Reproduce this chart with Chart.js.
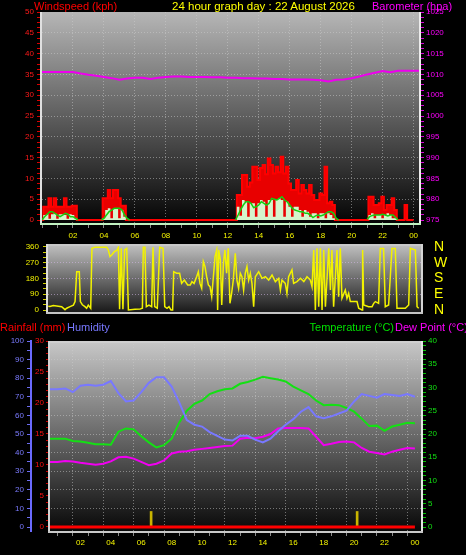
<!DOCTYPE html>
<html>
<head>
<meta charset="utf-8">
<title>24 hour graph</title>
<script src="https://cdn.jsdelivr.net/npm/chart.js@4.4.1/dist/chart.umd.min.js"></script>
<style>
  html, body { margin: 0; padding: 0; background: #000; }
  body { position: relative; width: 466px; height: 555px; overflow: hidden; font-family: "Liberation Sans", Arial, sans-serif; }
  canvas { position: absolute; left: 0; }
  .lbl { position: absolute; font-size: 11px; line-height: 12px; white-space: nowrap; z-index: 2; }
</style>
</head>
<body>
<div class="lbl" style="left:34px;top:0;color:#ff0000">Windspeed (kph)</div>
<div class="lbl" style="left:172px;top:0;color:#ffff00;font-size:11.5px">24 hour graph day : 22 August 2026</div>
<div class="lbl" style="left:372px;top:0;color:#ff00ff">Barometer (hpa)</div>
<div class="lbl" style="left:0;top:321px;color:#ff0000">Rainfall (mm)</div>
<div class="lbl" style="left:67px;top:321px;color:#7878ff">Humidity</div>
<div class="lbl" style="right:72px;top:321px;color:#00e000">Temperature (°C)</div>
<div class="lbl" style="left:395px;top:321px;color:#ff00ff">Dew Point (°C)</div>

<canvas id="windChart" width="466" height="240" style="top:0"></canvas>
<canvas id="dirChart" width="466" height="87" style="top:234px"></canvas>
<canvas id="weatherChart" width="466" height="235" style="top:320px"></canvas>

<script>
// wind, one sample every 10 minutes from 00:00 (kph)
const windGust = [
  0, 3.2, 3.2, 5.2, 3.2, 5.2,
  3.2, 3.2, 3.2, 5.2, 3.2, 3.2,
  3.4, 3.4, 0, 0, 0, 0,
  0, 0, 0, 0, 0, 0,
  5.2, 5.2, 7.2, 5.2, 7.2, 7.2,
  5.2, 3.4, 3.4, 0, 0, 0,
  0, 0, 0, 0, 0, 0,
  0, 0, 0, 0, 0, 0,
  0, 0, 0, 0, 0, 0,
  0, 0, 0, 0, 0, 0,
  0, 0, 0, 0, 0, 0,
  0, 0, 0, 0, 0, 0,
  0, 0, 0, 0, 6.0, 6.0,
  10.8, 10.8, 8.0, 9.0, 12.8, 12.8,
  9.6, 12.5, 13.2, 11.0, 14.8, 13.2,
  11.2, 12.8, 11.5, 15.2, 11.2, 12.8,
  8.8, 7.2, 7.2, 9.6, 6.4, 8.4,
  7.2, 6.4, 8.4, 6.0, 4.8, 4.8,
  6.4, 6.0, 12.8, 4.0, 4.4, 3.6,
  0, 0, 0, 0, 0, 0,
  0, 0, 0, 0, 0, 0,
  0, 5.6, 5.6, 3.6, 3.6, 4.0,
  5.6, 2.4, 3.6, 3.6, 5.2, 2.4,
  0, 0, 0, 3.6, 0, 0,
  0
];
const windSpeed = [
  0, 1.2, 1.4, 0.3, 1.4, 1.6,
  0.3, 1.4, 1.4, 1.2, 0.3, 1.4,
  1.2, 0.4, 0, 0, 0, 0,
  0, 0, 0, 0, 0, 0,
  0.4, 2.4, 2.8, 0.4, 2.8, 2.8,
  0.4, 2.4, 0.8, 0, 0, 0,
  0, 0, 0, 0, 0, 0,
  0, 0, 0, 0, 0, 0,
  0, 0, 0, 0, 0, 0,
  0, 0, 0, 0, 0, 0,
  0, 0, 0, 0, 0, 0,
  0, 0, 0, 0, 0, 0,
  0, 0, 0, 0, 3.2, 1.0,
  4.8, 4.4, 0.8, 4.0, 4.0, 0.8,
  4.0, 4.8, 4.4, 0.8, 4.8, 4.8,
  0.8, 4.8, 5.2, 4.8, 0.8, 4.4,
  3.2, 0.8, 3.2, 3.2, 2.4, 0.8,
  2.4, 2.0, 0.8, 1.6, 1.6, 0.4,
  1.6, 1.6, 0.4, 1.6, 1.2, 0.4,
  0, 0, 0, 0, 0, 0,
  0, 0, 0, 0, 0, 0,
  0, 1.2, 1.6, 0.4, 1.2, 1.2,
  0.4, 1.2, 1.6, 1.2, 0.4, 0.4,
  0, 0, 0, 0, 0, 0,
  0
];
const windAvg = [
  0, 0.8, 1.4, 2.0, 2.0, 1.6,
  1.2, 0.8, 1.2, 1.6, 1.4, 0.8,
  0.8, 0.4, 0, null, null, null,
  null, null, null, null, null, 0,
  0.4, 1.2, 2.0, 2.4, 2.8, 2.8,
  2.8, 2.4, 1.2, 0.4, 0, null,
  null, null, null, null, null, null,
  null, null, null, null, null, null,
  null, null, null, null, null, null,
  null, null, null, null, null, null,
  null, null, null, null, null, null,
  null, null, null, null, null, null,
  null, null, null, 0, 1.2, 2.5,
  3.6, 4.4, 4.4, 4.0, 3.0, 3.2,
  3.6, 4.4, 4.0, 3.6, 4.0, 5.2,
  5.0, 4.8, 5.2, 5.6, 4.8, 4.4,
  3.6, 2.8, 2.4, 2.2, 2.0, 2.0,
  1.6, 1.6, 1.2, 0.6, 1.0, 1.2,
  1.0, 1.2, 1.6, 2.0, 2.0, 1.6,
  0.4, 0, null, null, null, null,
  null, null, null, null, null, null,
  0.2, 0.8, 1.1, 1.2, 1.2, 1.2,
  1.4, 1.2, 1.0, 1.2, 1.2, 0.6,
  0, null, null, null, null, null,
  null
];

// barometer, one sample every 30 minutes (hPa)
const pressure = [
  1010.6, 1010.6, 1010.6, 1010.6,
  1010.6, 1010.2, 1009.9, 1009.7,
  1009.4, 1009.1, 1008.7, 1009.0,
  1009.2, 1009.2, 1008.9, 1009.2,
  1009.4, 1009.5, 1009.5, 1009.4,
  1009.4, 1009.4, 1009.3, 1009.3,
  1009.2, 1009.2, 1009.1, 1009.1,
  1009.0, 1009.0, 1008.9, 1008.9,
  1008.8, 1008.8, 1008.8, 1008.7,
  1008.6, 1008.3, 1008.7, 1008.8,
  1009.1, 1009.5, 1010.0, 1010.4,
  1010.8, 1010.5, 1010.9, 1010.9,
  1010.9, 1010.9
];

// wind direction (hour of day, degrees)
const dirHours = [
  0.02, 0.13, 0.35, 0.68, 0.90, 1.12, 1.23, 1.45, 1.67, 1.78, 1.89, 2.06, 2.13, 2.26, 2.43, 2.54, 2.65, 2.81, 2.89,
  3.09, 3.53, 3.86, 3.97, 4.08, 4.19, 4.36, 4.52, 4.63, 4.71, 4.82, 4.93, 5.04, 5.18, 5.29, 5.72, 6.05, 6.21, 6.27,
  6.38, 6.47, 6.64, 6.82, 6.91, 7.02, 7.19, 7.35, 7.57, 7.68, 7.83, 7.96, 8.09, 8.20, 8.27, 8.46, 8.66, 8.79, 8.97,
  9.19, 9.36, 9.47, 9.61, 9.78, 9.89, 10.00, 10.11, 10.22, 10.33, 10.44, 10.55, 10.66, 10.77, 10.88, 10.99, 11.10,
  11.16, 11.23, 11.34, 11.43, 11.54, 11.64, 11.75, 11.86, 11.97, 12.08, 12.19, 12.32, 12.43, 12.54, 12.65, 12.76,
  12.87, 12.98, 13.09, 13.20, 13.31, 13.42, 13.53, 13.64, 13.86, 14.08, 14.30, 14.52, 14.74, 14.96, 15.18, 15.29,
  15.39, 15.61, 15.72, 15.83, 16.05, 16.16, 16.38, 16.61, 16.83, 17.04, 17.26, 17.37, 17.48, 17.59, 17.70, 17.81,
  17.92, 18.03, 18.14, 18.25, 18.47, 18.58, 18.68, 18.79, 19.01, 19.12, 19.23, 19.34, 19.56, 19.67, 19.78, 19.89,
  20.33, 20.44, 20.66, 20.70, 20.77, 21.09, 21.32, 21.43, 21.54, 21.75, 21.86, 22.08, 22.19, 22.41, 22.63, 22.85,
  22.96, 23.51, 23.73, 23.84, 24.17, 24.28, 24.39
];
const dirDegrees = [
  22, 20, 25, 22, 19, 2, 10, 19, 28, 48, 219, 219, 48, 30, 19, 10, 28, 10, 352,
  358, 358, 358, 343, 305, 314, 333, 340, 358, 5, 352, 5, 343, 352, 0, 4, 5, 10, 358,
  358, 19, 28, 19, 358, 19, 10, 358, 352, 19, 10, 19, 0, 0, 219, 210, 210, 152, 171,
  143, 143, 162, 152, 190, 219, 152, 124, 276, 248, 190, 143, 133, 76, 190, 305, 343,
  0, 343, 286, 29, 267, 343, 210, 352, 38, 95, 171, 324, 171, 124, 210, 190,
  114, 210, 248, 171, 210, 152, 19, 190, 219, 181, 190, 171, 200, 162, 181, 114,
  171, 152, 95, 190, 229, 152, 162, 181, 162, 190, 171, 133, 343, 0, 352, 19,
  352, 0, 343, 19, 352, 114, 343, 19, 343, 76, 352, 67, 114, 67, 95, 48,
  48, 10, 0, 343, 29, 19, 19, 38, 48, 38, 352, 352, 19, 29, 352, 352,
  10, 10, 29, 352, 343, 19, 10
];

// temperature, dew point, humidity, rainfall: one sample every 30 minutes
const temperature = [
  19.0, 19.0, 19.0, 18.5,
  18.4, 18.1, 17.8, 17.8,
  17.7, 20.5, 21.2, 21.0,
  19.5, 18.2, 17.1, 17.6,
  19.0, 22.5, 25.0, 26.5,
  27.2, 28.6, 29.2, 29.6,
  29.8, 30.8, 31.2, 31.7,
  32.3, 32.0, 31.7, 31.3,
  30.2, 29.4, 28.6, 27.2,
  26.2, 26.3, 26.2, 25.6,
  24.8, 23.3, 21.7, 21.8,
  20.7, 21.6, 22.0, 22.4,
  22.3
];
const dewPoint = [
  14.0, 14.0, 14.2, 14.1,
  13.8, 13.6, 13.4, 13.6,
  14.1, 15.0, 15.1, 14.7,
  14.0, 13.3, 13.6, 14.3,
  15.8, 16.2, 16.3, 16.6,
  16.8, 17.0, 17.2, 17.4,
  17.5, 19.0, 19.2, 19.1,
  19.4, 20.0, 21.2, 21.3,
  21.3, 21.3, 21.2, 19.4,
  17.6, 17.9, 18.3, 18.4,
  18.2, 17.0, 16.2, 15.9,
  15.6, 16.2, 16.6, 17.0,
  16.9
];
const humidity = [
  74, 74, 74.5, 72.5,
  76, 76.5, 76, 76.5,
  78.5, 72, 67.5, 68,
  72.5, 77.5, 80.5, 80.5,
  75.5, 67, 57.5, 55,
  54, 51, 49, 47,
  46.5, 49, 49, 47,
  45.5, 47.5, 51.5, 55,
  58, 62, 64.5, 59.5,
  58.5, 59.5, 61, 62.5,
  67.5, 71.5, 70.5, 69.5,
  71.5, 71, 70.5, 71.5,
  70
];
const rainfall = [
  0, 0, 0, 0, 0, 0, 0, 0, 0, 0, 0, 0,
  0, 0, 0, 0, 0, 0, 0, 0, 0, 0, 0, 0,
  0, 0, 0, 0, 0, 0, 0, 0, 0, 0, 0, 0,
  0, 0, 0, 0, 0, 0, 0, 0, 0, 0, 0, 0,
  0
];
const rainMarkHours = [6.65, 20.2];
const rainMarkMm = [2.5, 2.5];

const hourLabels = ['02', '04', '06', '08', '10', '12', '14', '16', '18', '20', '22', '00'];
const compassLabels = ['N', 'E', 'S', 'W', 'N'];

const FONT = { family: '"Liberation Sans", Arial, sans-serif', size: 8 };
const GRID = 'rgba(205,205,205,0.5)';
const NONE = 'rgba(0,0,0,0)';

const every10min = arr => arr.map((v, i) => ({ x: i / 6, y: v }));
const every30min = arr => arr.map((v, i) => ({ x: i / 2, y: v }));

function fixedTicks(from, to, step) {
  return scale => {
    const t = [];
    const n = Math.round((to - from) / step);
    for (let i = 0; i <= n; i++) t.push({ value: +(from + i * step).toFixed(3) });
    scale.ticks = t;
  };
}
// fix an axis size and keep its labels from pushing the plot area around
function fixSize(w, h) {
  return s => {
    if (w != null) s.width = w;
    if (h != null) s.height = h;
    s.paddingTop = 0;
    s.paddingBottom = 0;
    s.paddingLeft = 0;
    s.paddingRight = 0;
  };
}
const isMult = (v, m) => Math.abs(v / m - Math.round(v / m)) < 1e-6;
const hourTick = v => (v > 0 && isMult(v, 2)) ? hourLabels[v / 2 - 1] : '';
const evenHourGrid = ctx => (ctx.tick && ctx.tick.value > 0 && isMult(ctx.tick.value, 2)) ? GRID : NONE;

// plot background gradient and frame
const plotBox = {
  id: 'plotBox',
  beforeDraw(chart, args, o) {
    const { ctx, chartArea: a } = chart;
    const g = ctx.createLinearGradient(0, a.top, 0, a.bottom);
    g.addColorStop(0, o.top);
    g.addColorStop(1, o.bottom);
    ctx.save();
    ctx.fillStyle = g;
    ctx.fillRect(a.left, a.top, a.right - a.left, a.bottom - a.top);
    ctx.restore();
  },
  afterDatasetsDraw(chart, args, o) {
    const { ctx, chartArea: a } = chart;
    ctx.save();
    ctx.lineWidth = 2;
    const edge = (col, x1, y1, x2, y2) => {
      if (!col) return;
      ctx.strokeStyle = col;
      ctx.beginPath();
      ctx.moveTo(x1, y1);
      ctx.lineTo(x2, y2);
      ctx.stroke();
    };
    edge(o.topEdge, a.left - 2, a.top + 1, a.right + 2, a.top + 1);
    edge(o.leftEdge, a.left - 1, a.top, a.left - 1, a.bottom + 2);
    edge(o.rightEdge, a.right + 1, a.top, a.right + 1, a.bottom + 2);
    edge(o.bottomEdge, a.left - 2, a.bottom + 1, a.right + 2, a.bottom + 1);
    ctx.restore();
  }
};
Chart.register(plotBox);

const base = {
  responsive: false,
  animation: false,
  elements: { point: { radius: 0 }, line: { tension: 0 } },
  plugins: { legend: { display: false }, tooltip: { enabled: false } }
};

// --- wind speed & barometer ---
new Chart(document.getElementById('windChart'), {
  type: 'line',
  data: {
    datasets: [
      { label: 'Average', data: every10min(windAvg), borderColor: '#12d012', borderWidth: 1.5, yAxisID: 'kph', order: 0 },
      { label: 'Speed', data: every10min(windSpeed), borderWidth: 0, backgroundColor: '#d4f4cc', fill: 'origin', stepped: 'middle', yAxisID: 'kph', order: 1 },
      { label: 'Gust', data: every10min(windGust), borderColor: '#ff0000', borderWidth: 2, backgroundColor: '#e80000', fill: 'origin', stepped: 'middle', yAxisID: 'kph', order: 2 },
      { label: 'Barometer', data: every30min(pressure), borderColor: '#ee00ee', borderWidth: 2, yAxisID: 'hpa', order: 0 }
    ]
  },
  options: {
    ...base,
    layout: { padding: { top: 12, left: 0, right: 0, bottom: 0 } },
    plugins: {
      ...base.plugins,
      plotBox: { top: '#b6b6b6', bottom: '#040404', leftEdge: '#e0e0e0', rightEdge: '#ececec', bottomEdge: '#bff0bf' }
    },
    scales: {
      x: {
        type: 'linear', min: 0, max: 24.35,
        afterBuildTicks: fixedTicks(0, 24, 1),
        afterFit: fixSize(null, 17),
        grid: { color: evenHourGrid, tickColor: '#8a8a8a', tickLength: 5 },
        border: { display: false, dash: [1, 2] },
        ticks: { color: '#f4f400', font: FONT, padding: 3, maxRotation: 0, autoSkip: false, callback: hourTick }
      },
      kph: {
        type: 'linear', position: 'left', min: -0.72, max: 50,
        afterBuildTicks: fixedTicks(0, 50, 1.25),
        afterFit: fixSize(42, null),
        grid: {
          color: ctx => (ctx.tick && isMult(ctx.tick.value, 5) && ctx.tick.value > 0 && ctx.tick.value < 50) ? GRID : NONE,
          tickColor: '#d80000', tickLength: 5
        },
        border: { display: false, dash: [1, 2] },
        ticks: { color: '#ff1a1a', font: FONT, padding: 3, autoSkip: false, callback: v => isMult(v, 5) ? v : '' }
      },
      hpa: {
        type: 'linear', position: 'right', min: 974.28, max: 1025,
        afterBuildTicks: fixedTicks(975, 1025, 1.25),
        afterFit: fixSize(47, null),
        grid: { drawOnChartArea: false, tickColor: '#d800d8', tickLength: 5 },
        border: { display: false },
        ticks: { color: '#ff00ff', font: FONT, padding: 2, autoSkip: false, callback: v => isMult(v, 5) ? v : '' }
      }
    }
  }
});

// --- wind direction ---
new Chart(document.getElementById('dirChart'), {
  type: 'line',
  data: {
    datasets: [
      { label: 'Direction', data: dirHours.map((h, i) => ({ x: h, y: dirDegrees[i] })), borderColor: '#f2f200', borderWidth: 1.5, yAxisID: 'deg' }
    ]
  },
  options: {
    ...base,
    layout: { padding: { top: 10, left: 0, right: 0, bottom: 9 } },
    plugins: {
      ...base.plugins,
      plotBox: { top: '#c2c2c2', bottom: '#1a1a1a', topEdge: '#c8c8c8', leftEdge: '#dcdcdc', rightEdge: '#d4d4d4', bottomEdge: '#c4c4c4' }
    },
    scales: {
      x: { type: 'linear', min: 0, max: 24.54, display: false },
      deg: {
        type: 'linear', position: 'left', min: -11.4, max: 377,
        afterBuildTicks: fixedTicks(0, 360, 30),
        afterFit: fixSize(48, null),
        grid: {
          color: ctx => (ctx.tick && isMult(ctx.tick.value, 90) && ctx.tick.value > 0 && ctx.tick.value < 360) ? 'rgba(215,185,235,0.55)' : NONE,
          tickColor: '#d0d000', tickLength: 5
        },
        border: { display: false, dash: [1, 2] },
        ticks: { color: '#f0f000', font: FONT, padding: 4, autoSkip: false, callback: v => isMult(v, 90) ? v : '' }
      },
      compass: {
        type: 'linear', position: 'right', min: -11.4, max: 377,
        afterBuildTicks: fixedTicks(0, 360, 90),
        afterFit: fixSize(45, null),
        grid: { display: false },
        border: { display: false },
        ticks: { color: '#ffff00', font: { family: FONT.family, size: 14 }, padding: 5, autoSkip: false, callback: v => compassLabels[Math.round(v / 90)] }
      }
    }
  }
});

// --- rainfall, humidity, temperature, dew point ---
new Chart(document.getElementById('weatherChart'), {
  type: 'line',
  data: {
    datasets: [
      { label: 'Rainfall', data: every30min(rainfall), borderColor: '#ff0000', borderWidth: 3, yAxisID: 'rain', order: 0 },
      { type: 'bar', label: 'Rain', data: rainMarkHours.map((h, i) => ({ x: h, y: rainMarkMm[i] })), backgroundColor: '#c8b400', barThickness: 2, yAxisID: 'rain', order: 1 },
      { label: 'Humidity', data: every30min(humidity), borderColor: '#7878ff', borderWidth: 2, yAxisID: 'hum', order: 2 },
      { label: 'Temperature', data: every30min(temperature), borderColor: '#14e014', borderWidth: 2, yAxisID: 'temp', order: 3 },
      { label: 'Dew Point', data: every30min(dewPoint), borderColor: '#f000f0', borderWidth: 2, yAxisID: 'temp', order: 4 }
    ]
  },
  options: {
    ...base,
    layout: { padding: { top: 21, left: 0, right: 0, bottom: 0 } },
    plugins: {
      ...base.plugins,
      plotBox: { top: '#c8c8c8', bottom: '#080808', topEdge: '#cfcfcf', leftEdge: '#d4d4d4', rightEdge: '#e4e4e4', bottomEdge: '#c8c8c8' }
    },
    scales: {
      x: {
        type: 'linear', min: 0, max: 24.4, offset: false,
        afterBuildTicks: fixedTicks(0, 24, 1),
        afterFit: fixSize(null, 24),
        grid: { color: evenHourGrid, tickColor: '#8a8a8a', tickLength: 5 },
        border: { display: false, dash: [1, 2] },
        ticks: { color: '#f4f400', font: FONT, padding: 2, maxRotation: 0, autoSkip: false, callback: hourTick }
      },
      hum: {
        type: 'linear', position: 'left', weight: 2, min: -2.15, max: 100,
        afterBuildTicks: fixedTicks(0, 100, 5),
        afterFit: fixSize(31, null),
        grid: {
          color: ctx => (ctx.tick && isMult(ctx.tick.value, 10) && ctx.tick.value > 0 && ctx.tick.value < 100) ? GRID : NONE,
          tickColor: '#6c6cf0', tickLength: 4
        },
        border: { display: true, color: '#6a6aff', width: 2, dash: [1, 2] },
        ticks: { color: '#7b7bff', font: FONT, padding: 3, autoSkip: false, callback: v => isMult(v, 10) ? v : '' }
      },
      rain: {
        type: 'linear', position: 'left', weight: 1, min: -0.65, max: 30,
        afterBuildTicks: fixedTicks(0, 30, 1),
        afterFit: fixSize(19, null),
        grid: { drawOnChartArea: false, tickColor: '#d00000', tickLength: 4 },
        border: { display: false },
        ticks: { color: '#ff1010', font: FONT, padding: 2, autoSkip: false, callback: v => isMult(v, 5) ? v : '' }
      },
      temp: {
        type: 'linear', position: 'right', min: -0.86, max: 40,
        afterBuildTicks: fixedTicks(0, 40, 1),
        afterFit: fixSize(45, null),
        grid: { drawOnChartArea: false, tickColor: '#00c000', tickLength: 5 },
        border: { display: false },
        ticks: { color: '#12e012', font: FONT, padding: 2, autoSkip: false, callback: v => isMult(v, 5) ? v : '' }
      }
    }
  }
});
</script>
</body>
</html>
